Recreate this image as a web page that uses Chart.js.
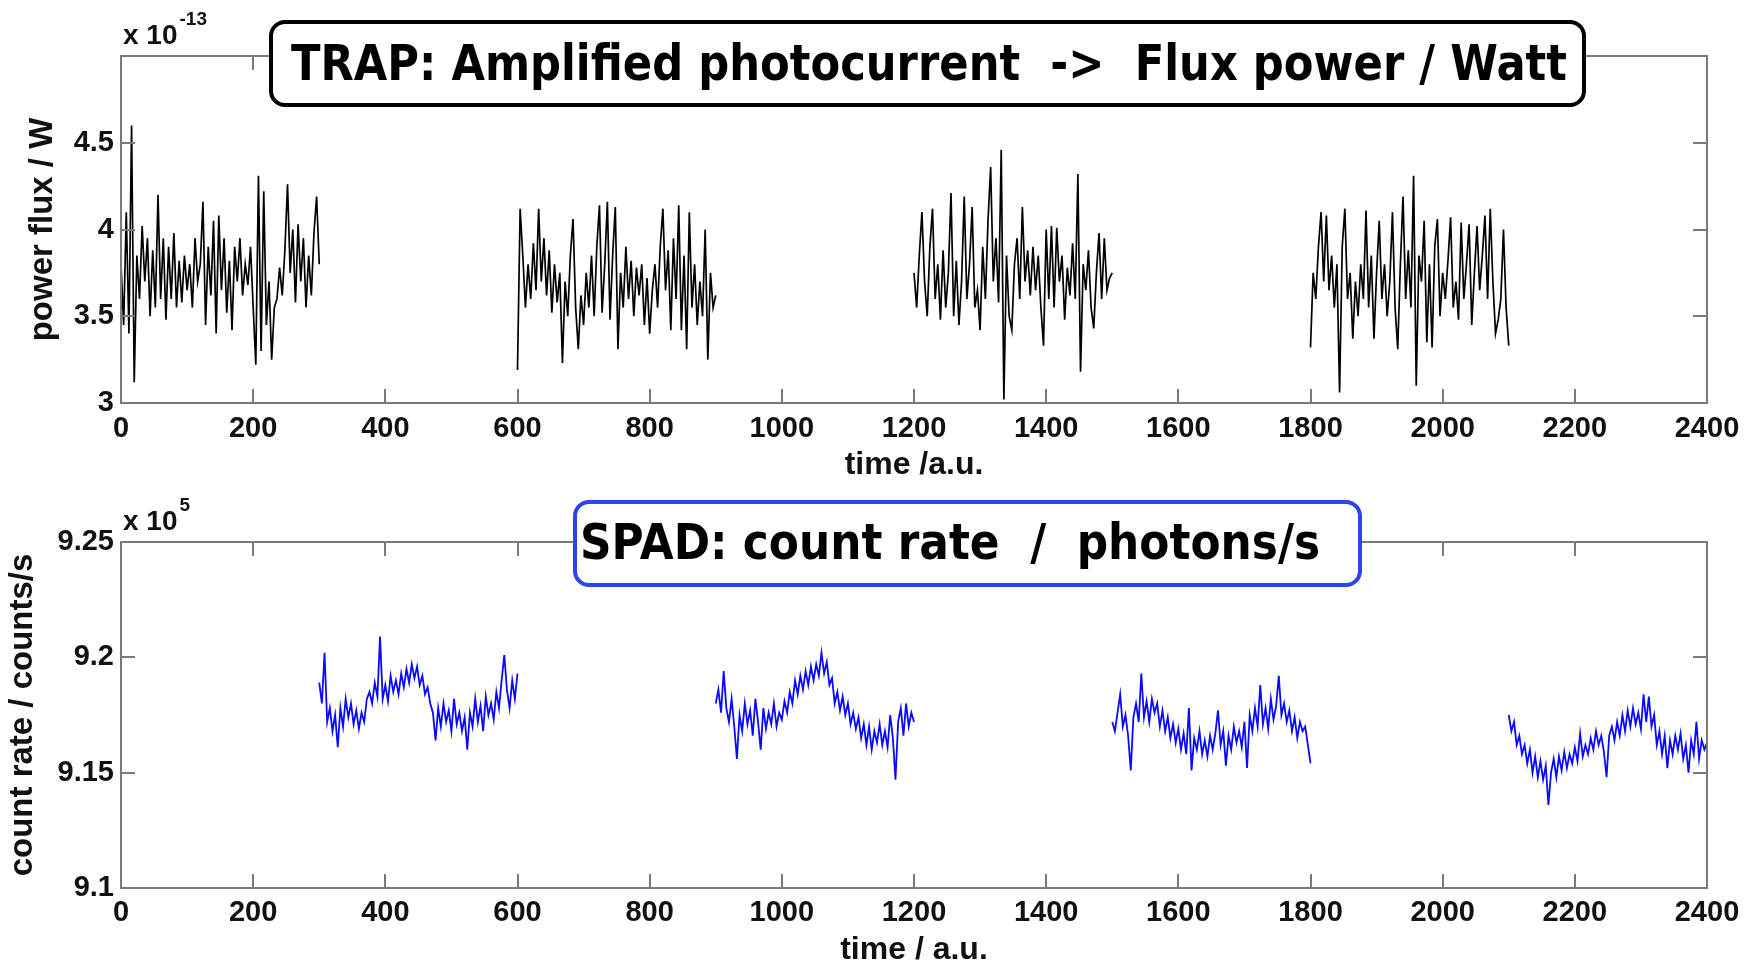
<!DOCTYPE html>
<html>
<head>
<meta charset="utf-8">
<script src="https://cdn.jsdelivr.net/npm/chart.js@4.4.1/dist/chart.umd.min.js"></script>
<style>
  html, body { margin: 0; padding: 0; background: #fff; }
  body { width: 1757px; height: 966px; position: relative; overflow: hidden; }
  canvas { position: absolute; left: 0; }
  #trapChart { top: 0; }
  #spadChart { top: 483px; }
</style>
</head>
<body>
<canvas id="trapChart" width="1757" height="483"></canvas>
<canvas id="spadChart" width="1757" height="483"></canvas>
<script>
// time between the values (a.u.)
const sampleStep = 4;

const timeTicks = [0, 200, 400, 600, 800, 1000, 1200, 1400, 1600, 1800, 2000, 2200, 2400];
const trapTicks = [3, 3.5, 4, 4.5];
const spadTicks = [9.1, 9.15, 9.2, 9.25];

// TRAP power flux, x 1e-13 W
const trapStarts = [0, 600, 1200, 1800];
const trapSeg1 = [3.80, 3.45, 4.10, 3.40, 4.60, 3.12, 3.85, 3.60, 4.02, 3.70, 3.95, 3.50, 3.88, 3.55, 4.20, 3.60,
  3.95, 3.48, 3.90, 3.60, 3.98, 3.55, 3.82, 3.58, 3.85, 3.65, 3.80, 3.55, 3.95, 3.70, 3.80, 4.16,
  3.45, 3.90, 3.62, 4.05, 3.40, 4.08, 3.65, 3.95, 3.52, 3.82, 3.42, 3.90, 3.70, 3.95, 3.62, 3.80,
  3.68, 3.90, 3.55, 3.22, 4.31, 3.30, 4.22, 3.45, 3.70, 3.25, 3.55, 3.60, 3.78, 3.62, 3.88, 4.26,
  3.75, 4.00, 3.58, 4.03, 3.70, 3.95, 3.55, 3.85, 3.62, 3.98, 4.19, 3.80];
const trapSeg2 = [3.19, 4.12, 3.85, 3.55, 3.80, 3.60, 3.92, 3.65, 4.12, 3.70, 3.95, 3.62, 3.88, 3.52, 3.80, 3.58,
  3.75, 3.23, 3.70, 3.50, 3.85, 4.06, 3.55, 3.31, 3.62, 3.45, 3.75, 3.55, 3.85, 3.50, 3.90, 4.14,
  3.52, 3.80, 4.16, 3.48, 3.85, 4.13, 3.31, 3.75, 3.55, 3.90, 3.60, 3.82, 3.50, 3.78, 3.62, 3.80,
  3.45, 3.72, 3.40, 3.65, 3.80, 3.55, 3.90, 4.12, 3.65, 3.88, 3.42, 3.95, 3.60, 4.14, 3.42, 3.85,
  3.31, 4.10, 3.55, 3.80, 3.45, 3.70, 3.50, 4.00, 3.25, 3.75, 3.55, 3.62];
const trapSeg3 = [3.75, 3.55, 3.85, 4.10, 3.70, 3.50, 3.90, 4.12, 3.60, 3.80, 3.48, 3.88, 3.55, 3.75, 4.21, 3.50,
  3.82, 3.45, 3.70, 4.19, 3.60, 3.80, 4.13, 3.55, 3.65, 3.42, 3.90, 3.60, 4.05, 4.36, 3.70, 3.95,
  3.58, 4.46, 3.02, 3.85, 3.50, 3.42, 3.80, 3.95, 3.60, 4.13, 3.70, 3.88, 3.62, 3.90, 3.65, 3.85,
  3.55, 3.33, 4.00, 3.60, 4.02, 3.55, 4.01, 3.70, 3.85, 3.48, 3.78, 3.62, 3.92, 3.60, 4.32, 3.18,
  3.80, 3.65, 3.88, 3.55, 3.43, 3.75, 3.98, 3.60, 3.95, 3.65, 3.72, 3.75];
const trapSeg4 = [3.32, 3.75, 3.60, 3.90, 4.10, 3.70, 4.08, 3.65, 3.85, 3.55, 3.80, 3.06, 3.90, 4.12, 3.60, 3.75,
  3.37, 3.70, 3.50, 3.80, 3.60, 4.11, 3.55, 3.85, 3.37, 3.75, 4.05, 3.60, 3.80, 3.50, 3.70, 4.10,
  3.55, 3.31, 3.80, 4.19, 3.60, 3.88, 3.55, 4.31, 3.10, 3.85, 3.70, 4.05, 3.35, 3.80, 3.32, 3.90,
  4.06, 3.50, 3.75, 3.60, 3.82, 4.07, 3.55, 3.70, 3.48, 4.04, 3.60, 3.80, 4.03, 3.45, 3.75, 4.02,
  3.65, 3.85, 4.08, 3.60, 4.12, 3.70, 3.40, 3.48, 3.60, 4.00, 3.55, 3.33];

// SPAD count rate, x 1e5 counts/s
const spadStarts = [300, 900, 1500, 2100];
const spadSeg1 = [9.189, 9.180, 9.202, 9.172, 9.178, 9.168, 9.175, 9.161, 9.178, 9.170, 9.182, 9.174, 9.180, 9.171, 9.177, 9.169,
  9.176, 9.172, 9.182, 9.185, 9.180, 9.189, 9.183, 9.209, 9.182, 9.188, 9.181, 9.192, 9.185, 9.190, 9.184, 9.193,
  9.187, 9.195, 9.189, 9.197, 9.191, 9.196, 9.188, 9.192, 9.184, 9.187, 9.180, 9.176, 9.164, 9.178, 9.170, 9.180,
  9.172, 9.177, 9.168, 9.182, 9.171, 9.176, 9.168, 9.174, 9.160, 9.176, 9.170, 9.182, 9.172, 9.179, 9.168, 9.183,
  9.175, 9.180, 9.173, 9.185, 9.178, 9.190, 9.201, 9.186, 9.178, 9.190, 9.182, 9.193];
const spadSeg2 = [9.180, 9.186, 9.176, 9.194, 9.178, 9.172, 9.182, 9.170, 9.156, 9.175, 9.168, 9.180, 9.171, 9.177, 9.166, 9.182,
  9.172, 9.160, 9.178, 9.169, 9.176, 9.171, 9.180, 9.170, 9.176, 9.173, 9.181, 9.176, 9.185, 9.180, 9.190, 9.184,
  9.192, 9.186, 9.194, 9.188, 9.196, 9.190, 9.197, 9.192, 9.202, 9.193, 9.198, 9.188, 9.191, 9.180, 9.185, 9.177,
  9.183, 9.175, 9.180, 9.171, 9.176, 9.169, 9.174, 9.165, 9.171, 9.162, 9.170, 9.160, 9.168, 9.163, 9.171, 9.162,
  9.168, 9.161, 9.175, 9.165, 9.147, 9.172, 9.178, 9.166, 9.180, 9.170, 9.176, 9.172];
const spadSeg3 = [9.172, 9.168, 9.176, 9.184, 9.170, 9.175, 9.166, 9.151, 9.174, 9.180, 9.172, 9.193, 9.174, 9.181, 9.172, 9.182,
  9.176, 9.180, 9.170, 9.177, 9.168, 9.174, 9.165, 9.171, 9.163, 9.169, 9.160, 9.167, 9.158, 9.178, 9.151, 9.165,
  9.160, 9.168, 9.158, 9.164, 9.157, 9.166, 9.160, 9.167, 9.177, 9.162, 9.168, 9.153, 9.166, 9.160, 9.170, 9.163,
  9.168, 9.161, 9.172, 9.152, 9.175, 9.168, 9.178, 9.170, 9.188, 9.171, 9.178, 9.169, 9.182, 9.173, 9.179, 9.192,
  9.175, 9.180, 9.172, 9.177, 9.168, 9.174, 9.165, 9.172, 9.168, 9.170, 9.162, 9.154];
const spadSeg4 = [9.175, 9.168, 9.172, 9.162, 9.166, 9.158, 9.162, 9.154, 9.160, 9.150, 9.157, 9.148, 9.155, 9.147, 9.153, 9.136,
  9.150, 9.156, 9.148, 9.157, 9.151, 9.159, 9.152, 9.158, 9.154, 9.161, 9.155, 9.167, 9.157, 9.162, 9.158, 9.165,
  9.160, 9.168, 9.162, 9.166, 9.159, 9.148, 9.166, 9.170, 9.164, 9.172, 9.166, 9.175, 9.168, 9.177, 9.170, 9.178,
  9.171, 9.176, 9.169, 9.184, 9.172, 9.183, 9.170, 9.175, 9.162, 9.168, 9.158, 9.166, 9.152, 9.164, 9.158, 9.166,
  9.160, 9.167, 9.156, 9.162, 9.150, 9.164, 9.158, 9.172, 9.156, 9.164, 9.160, 9.163];

const trapSegments = [trapSeg1, trapSeg2, trapSeg3, trapSeg4];
const spadSegments = [spadSeg1, spadSeg2, spadSeg3, spadSeg4];

function toPoints(start, values) {
    return values.map((v, i) => ({ x: start + i * sampleStep, y: v }));
}

function segmentDatasets(starts, segments, color, width) {
    return segments.map((seg, i) => ({
        data: toPoints(starts[i], seg),
        borderColor: color,
        borderWidth: width,
        pointRadius: 0,
        showLine: true,
        tension: 0
    }));
}

// MATLAB-like frame: box, inward ticks, exponent label and the title box
const matlabFrame = {
    id: 'matlabFrame',
    afterDraw(chart, args, opts) {
        const { ctx, chartArea: a, scales: { x, y } } = chart;
        ctx.save();
        ctx.strokeStyle = '#7a7a7a';
        ctx.lineWidth = 2;
        ctx.strokeRect(a.left, a.top, a.right - a.left, a.bottom - a.top);
        const t = 14;
        ctx.beginPath();
        x.ticks.forEach(tk => {
            const px = Math.round(x.getPixelForValue(tk.value));
            ctx.moveTo(px, a.bottom); ctx.lineTo(px, a.bottom - t);
            ctx.moveTo(px, a.top); ctx.lineTo(px, a.top + t);
        });
        y.ticks.forEach(tk => {
            const py = Math.round(y.getPixelForValue(tk.value));
            ctx.moveTo(a.left, py); ctx.lineTo(a.left + t, py);
            ctx.moveTo(a.right, py); ctx.lineTo(a.right - t, py);
        });
        ctx.stroke();

        // "x 10^n" multiplier
        ctx.fillStyle = '#111';
        ctx.textBaseline = 'alphabetic';
        ctx.font = 'bold 28px "Liberation Sans", Arial, sans-serif';
        ctx.fillText('x 10', a.left + 2, a.top - 12);
        const w = ctx.measureText('x 10').width;
        ctx.font = 'bold 19px "Liberation Sans", Arial, sans-serif';
        ctx.fillText(opts.exponent, a.left + 4 + w, a.top - 31);

        // title box
        const b = opts.box;
        ctx.beginPath();
        ctx.roundRect(b.left, b.top, b.right - b.left, b.bottom - b.top, 14);
        ctx.fillStyle = '#fff';
        ctx.fill();
        ctx.lineWidth = 4;
        ctx.strokeStyle = b.color;
        ctx.stroke();
        ctx.font = 'bold 50px "DejaVu Sans", sans-serif';
        const tw = ctx.measureText(b.text).width;
        ctx.translate(b.textLeft, b.baseline);
        ctx.scale(b.textWidth / tw, 1);
        ctx.fillStyle = '#000';
        ctx.fillText(b.text, 0, 0);
        ctx.restore();
    }
};

function makeOptions(cfg) {
    const tickFont = { family: '"Liberation Sans", Arial, sans-serif', size: 29, weight: 'bold' };
    return {
        responsive: false,
        animation: false,
        events: [],
        layout: { padding: { left: 0, right: 50, top: cfg.top, bottom: 0 } },
        plugins: {
            legend: { display: false },
            tooltip: { enabled: false },
            matlabFrame: { exponent: cfg.exponent, box: cfg.box }
        },
        scales: {
            x: {
                type: 'linear',
                min: 0,
                max: 2400,
                afterBuildTicks: s => { s.ticks = timeTicks.map(v => ({ value: v })); },
                afterFit: s => { s.height = cfg.xHeight; },
                grid: { display: false, drawTicks: false },
                border: { display: false },
                ticks: { color: '#111', font: tickFont, padding: cfg.xPad, maxRotation: 0, callback: v => String(v) },
                title: {
                    display: true, text: cfg.xTitle, color: '#111',
                    font: { family: '"Liberation Sans", Arial, sans-serif', size: 32, weight: 'bold', lineHeight: 1 },
                    padding: { top: 0, bottom: cfg.xTitlePad }
                }
            },
            y: {
                type: 'linear',
                min: cfg.yMin,
                max: cfg.yMax,
                afterBuildTicks: s => { s.ticks = cfg.yTicks.map(v => ({ value: v })); },
                afterFit: s => { s.width = 121; },
                grid: { display: false, drawTicks: false },
                border: { display: false },
                ticks: { color: '#111', font: tickFont, padding: 7, callback: v => String(Number(v.toFixed(2))) },
                title: {
                    display: true, text: cfg.yTitle, color: '#111',
                    font: { family: '"Liberation Sans", Arial, sans-serif', size: 33, weight: 'bold', lineHeight: 1 },
                    padding: { top: cfg.yTitlePad, bottom: 0 }
                }
            }
        }
    };
}

new Chart(document.getElementById('trapChart'), {
    type: 'scatter',
    data: { datasets: segmentDatasets(trapStarts, trapSegments, '#000', 1.7) },
    options: makeOptions({
        top: 56, xHeight: 80, xPad: 9, xTitlePad: 2, yTitlePad: 26,
        yMin: 3, yMax: 5, yTicks: trapTicks,
        xTitle: 'time /a.u.', yTitle: 'power flux / W', exponent: '-13',
        box: { left: 271, right: 1584, top: 22, bottom: 105, color: '#000',
               text: 'TRAP: Amplified photocurrent  ->  Flux power / Watt',
               textLeft: 291, textWidth: 1276, baseline: 80 }
    }),
    plugins: [matlabFrame]
});

new Chart(document.getElementById('spadChart'), {
    type: 'scatter',
    data: { datasets: segmentDatasets(spadStarts, spadSegments, '#0a0aff', 1.8) },
    options: makeOptions({
        top: 59, xHeight: 78, xPad: 8, xTitlePad: 0, yTitlePad: 6,
        yMin: 9.1, yMax: 9.25, yTicks: spadTicks,
        xTitle: 'time / a.u.', yTitle: 'count rate / counts/s', exponent: '5',
        box: { left: 575, right: 1360, top: 19, bottom: 102, color: '#2a44f2',
               text: 'SPAD: count rate  /  photons/s',
               textLeft: 580, textWidth: 740, baseline: 76 }
    }),
    plugins: [matlabFrame]
});
</script>
</body>
</html>
